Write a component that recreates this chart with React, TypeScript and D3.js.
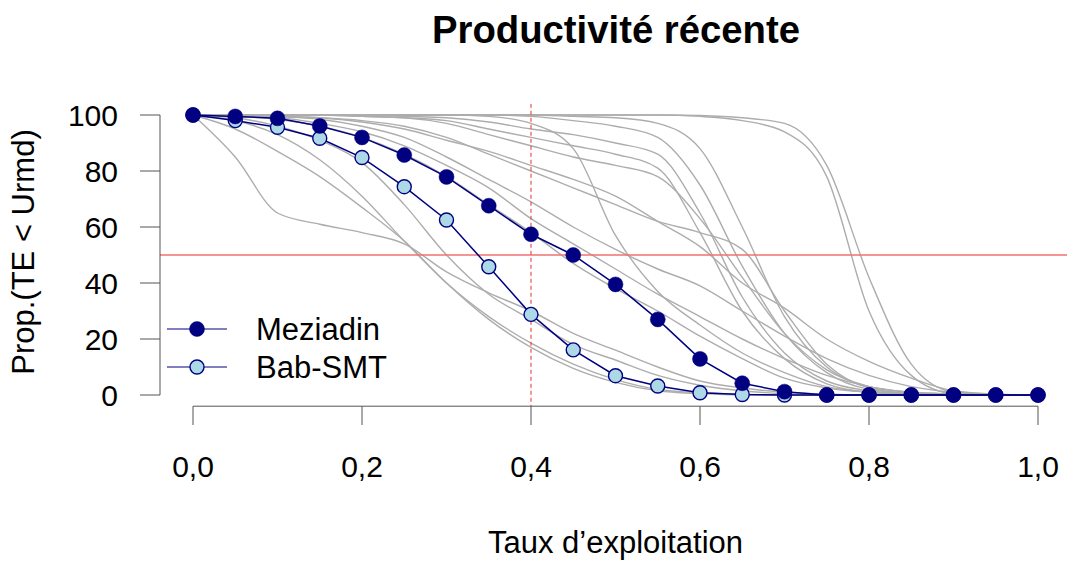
import React from "react";
import * as d3 from "d3";

const rates = [0, 0.05, 0.1, 0.15, 0.2, 0.25, 0.3, 0.35, 0.4, 0.45, 0.5, 0.55, 0.6, 0.65, 0.7, 0.75, 0.8, 0.85, 0.9, 0.95, 1.0];

const meziadin = [100, 99.5, 98.8, 96.1, 92, 85.7, 77.9, 67.6, 57.4, 50, 39.5, 27, 12.9, 4.2, 1.2, 0, 0, 0, 0, 0, 0];
const babSMT = [100, 98, 95.6, 91.7, 84.8, 74.4, 62.5, 45.8, 28.8, 16.1, 6.9, 3.2, 0.8, 0.2, 0, 0, 0, 0, 0, 0, 0];

const greyA = [100, 85, 65, 61, 58, 54, 44, 36.5, 30, 22, 16, 10, 5, 2.5, 1, 0.3, 0, 0, 0, 0, 0];
const greyB = [100, 95, 87, 78, 67, 55, 40, 28, 18.5, 11, 5.5, 2, 0.8, 0.3, 0, 0, 0, 0, 0, 0, 0];
const greyC = [100, 98, 93, 84, 71, 55, 40, 27, 17, 9.5, 4.5, 1.5, 0.5, 0, 0, 0, 0, 0, 0, 0, 0];
const greyD = [100, 99, 96, 91, 83, 68, 50, 36, 27, 18, 12.5, 7, 3.5, 1.5, 0.5, 0.2, 0, 0, 0, 0, 0];
const greyH = [100, 99.5, 98.5, 96, 92, 86, 78, 68, 58, 47, 38, 30, 21, 13, 6, 2.5, 1, 0.3, 0, 0, 0];
const greyI = [100, 99.5, 99, 97, 94, 89, 82, 74, 63, 54, 45, 36, 28, 20, 13, 7, 3, 1, 0.3, 0, 0];
const greyJ = [100, 100, 99.5, 98.5, 96, 92, 85, 77, 69, 60, 52, 45, 39, 30, 21, 13, 7, 3, 1, 0.3, 0];
const greyG = [100, 100, 99.5, 99, 97.5, 95, 91, 87, 82, 77, 71, 62, 53, 40, 31, 20, 12, 6, 1.5, 0.3, 0];
const greyK = [100, 100, 99.5, 99, 98, 96, 92, 86, 80, 74, 68, 62, 58, 52, 30, 11, 2.5, 0.5, 0, 0, 0];
const greyS1 = [100, 100, 100, 100, 100, 100, 100, 99.5, 97, 88, 57, 37, 25, 15, 8, 3, 1, 0.3, 0, 0, 0];
const greyS2 = [100, 100, 100, 100, 100, 99.5, 99, 97.5, 95, 93, 90, 86, 65, 35, 15, 5, 1.5, 0.3, 0, 0, 0];
const greyS3 = [100, 100, 100, 100, 99.5, 99, 98, 95, 92, 89, 86, 81, 58, 30, 13, 4, 1, 0.3, 0, 0, 0];
const greyS4 = [100, 100, 100, 100, 99.5, 99, 97, 93, 89, 85, 82, 78, 63, 42, 22, 9, 3, 1, 0.3, 0, 0];
const greyS5 = [100, 100, 100, 100, 100, 100, 100, 100, 99.5, 98, 96, 92, 75, 46, 22, 8, 2, 0.5, 0, 0, 0];
const greyS6 = [100, 100, 100, 100, 100, 100, 100, 100, 100, 99.5, 99, 97, 88, 60, 28, 10, 3, 1, 0.3, 0, 0];
const greyE1 = [100, 100, 100, 100, 100, 100, 100, 100, 100, 100, 100, 100, 99.5, 98, 94, 78, 30, 7, 0.5, 0, 0];
const greyE2 = [100, 100, 100, 100, 100, 100, 100, 100, 100, 100, 100, 100, 99.8, 99, 97, 82, 42, 11, 1, 0, 0];

const greyCurves = [greyA, greyB, greyC, greyD, greyH, greyI, greyJ, greyG, greyK, greyS1, greyS2, greyS3, greyS4, greyS5, greyS6, greyE1, greyE2];

const xTicks = [0, 0.2, 0.4, 0.6, 0.8, 1.0];
const xTickLabels = ["0,0", "0,2", "0,4", "0,6", "0,8", "1,0"];
const yTicks = [0, 20, 40, 60, 80, 100];

const title = "Productivité récente";
const xLabel = "Taux d\u2019exploitation";
const yLabel = "Prop.(TE < Urmd)";
const seriesNames = ["Meziadin", "Bab-SMT"];
const refRate = 0.4;
const refProp = 50;

const FONT = "'Liberation Sans', Arial, Helvetica, sans-serif";

export default function App() {
  const W = 1067, H = 561;
  const x = d3.scaleLinear().domain([0, 1]).range([193, 1038]);
  const y = d3.scaleLinear().domain([0, 100]).range([395, 115]);
  const plotLeft = 160, plotRight = 1071, plotTop = 103.8, plotBottom = 406.2;

  const greyLine = d3.line<number>().x((_, i) => x(rates[i])).y((d) => y(d)).curve(d3.curveMonotoneX);
  const seriesLine = d3.line<number>().x((_, i) => x(rates[i])).y((d) => y(d));

  const navy = "#000080";
  const light = "#ADD8E6";

  return (
    <svg width={W} height={H} style={{ position: "absolute", left: 0, top: 0, background: "#fff" }} fontFamily={FONT}>
      <defs>
        <clipPath id="plotclip">
          <rect x={plotLeft} y={plotTop} width={plotRight - plotLeft} height={plotBottom - plotTop} />
        </clipPath>
      </defs>
      <text x={616} y={43} textAnchor="middle" fontSize={38} fontWeight="bold" fill="#000" textLength={368} lengthAdjust="spacingAndGlyphs">{title}</text>

      <g clipPath="url(#plotclip)">
        {greyCurves.map((c, i) => (
          <path key={i} d={greyLine(c) || ""} fill="none" stroke="#adadad" strokeWidth={1.4} />
        ))}
        <line x1={plotLeft} x2={plotRight} y1={y(refProp)} y2={y(refProp)} stroke="#f07070" strokeWidth={1.3} />
        <line x1={x(refRate)} x2={x(refRate)} y1={plotTop} y2={plotBottom} stroke="#e53030" strokeWidth={1} strokeDasharray="4,3" />
      </g>

      {/* Bab-SMT */}
      <path d={seriesLine(babSMT) || ""} fill="none" stroke={navy} strokeWidth={1.5} />
      {babSMT.map((v, i) => (
        <circle key={"b" + i} cx={x(rates[i])} cy={y(v)} r={7} fill={light} stroke={navy} strokeWidth={1.4} />
      ))}
      {/* Meziadin */}
      <path d={seriesLine(meziadin) || ""} fill="none" stroke={navy} strokeWidth={1.5} />
      {meziadin.map((v, i) => (
        <circle key={"m" + i} cx={x(rates[i])} cy={y(v)} r={7.5} fill={navy} stroke={navy} strokeWidth={0.5} />
      ))}

      {/* Y axis */}
      <line x1={plotLeft} x2={plotLeft} y1={y(0)} y2={y(100)} stroke="#555" strokeWidth={1} />
      {yTicks.map((t) => (
        <g key={"yt" + t}>
          <line x1={140} x2={plotLeft} y1={y(t)} y2={y(t)} stroke="#555" strokeWidth={1} />
          <text x={118} y={y(t)} dy="0.36em" textAnchor="end" fontSize={30} fill="#000">{t}</text>
        </g>
      ))}
      {/* X axis */}
      <line x1={x(0)} x2={x(1)} y1={plotBottom} y2={plotBottom} stroke="#555" strokeWidth={1} />
      {xTicks.map((t, i) => (
        <g key={"xt" + t}>
          <line x1={x(t)} x2={x(t)} y1={plotBottom} y2={425} stroke="#555" strokeWidth={1} />
          <text x={x(t)} y={477} textAnchor="middle" fontSize={30} fill="#000">{xTickLabels[i]}</text>
        </g>
      ))}

      <text x={615.5} y={553} textAnchor="middle" fontSize={31} fill="#000">{xLabel}</text>
      <text transform={`translate(34, 252) rotate(-90)`} textAnchor="middle" fontSize={31} fill="#000">{yLabel}</text>

      {/* Legend */}
      <g>
        <line x1={167} x2={227} y1={329} y2={329} stroke={navy} strokeWidth={1} />
        <circle cx={197} cy={329} r={7.5} fill={navy} stroke={navy} strokeWidth={0.5} />
        <text x={256} y={329} dy="0.36em" fontSize={31} fill="#000">{seriesNames[0]}</text>
        <line x1={167} x2={227} y1={367} y2={367} stroke={navy} strokeWidth={1} />
        <circle cx={197} cy={367} r={7} fill={light} stroke={navy} strokeWidth={1.4} />
        <text x={256} y={367} dy="0.36em" fontSize={31} fill="#000">{seriesNames[1]}</text>
      </g>
    </svg>
  );
}
